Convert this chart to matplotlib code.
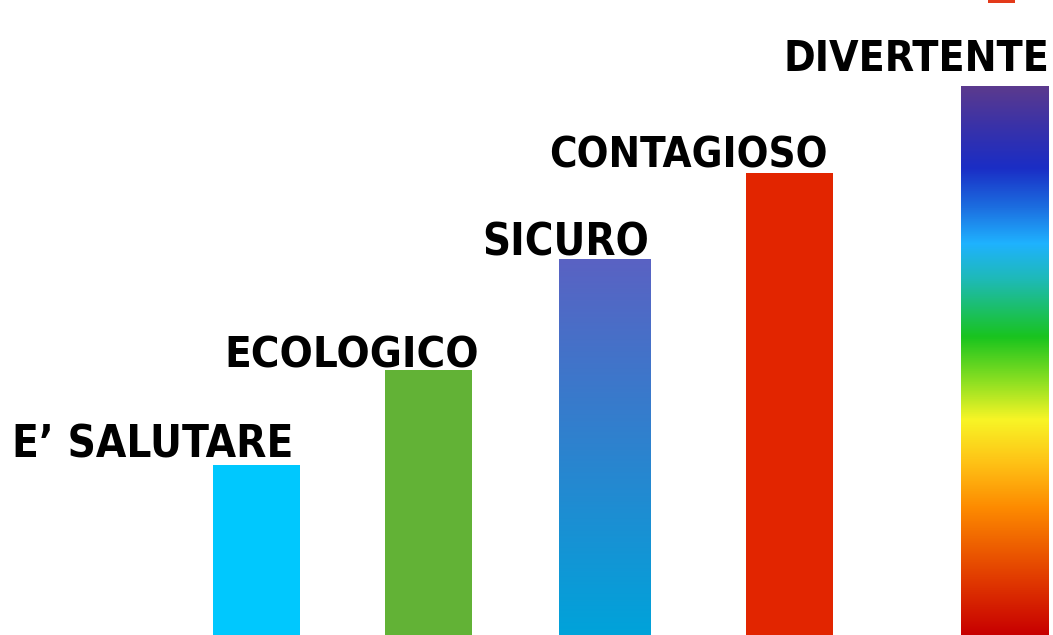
import matplotlib
matplotlib.use("Agg")
import matplotlib.pyplot as plt
import matplotlib.colors as mcolors
import numpy as np

# data
labels = ["E\u2019 SALUTARE", "ECOLOGICO", "SICURO", "CONTAGIOSO", "DIVERTENTE"]
values = [170, 265, 376, 462, 549]
colors = ["#00C8FE", "#62B236", "#3B7ECC", "#E22500", "#5B3A8E"]

# layout (pixels of the 1053x635 canvas)
bar_x = [256.5, 428.5, 605, 789.5, 1005]
bar_w = [87, 87, 92, 87, 88]
label_right = [293, 479, 649, 828, 1049]
label_gap = [8, 3, 4, 5, 15]
label_width = [281, 254, 167, 278, 266]

# gradients, top -> bottom
grad_sicuro = ["#5A62C3", "#00A3DA"]
grad_rainbow = [(0.0, "#5B3A8E"), (0.07, "#3A32A8"), (0.148, "#1A2DC5"),
                (0.22, "#1C6EE0"), (0.286, "#1FB2FF"), (0.353, "#1EBAB5"),
                (0.457, "#19C41E"), (0.54, "#8FE022"), (0.608, "#F8F526"),
                (0.69, "#FFC015"), (0.77, "#FD8A00"), (0.9, "#E13A00"),
                (1.0, "#C80000")]

fig = plt.figure(figsize=(10.53, 6.35), dpi=100, facecolor="w")
ax = fig.add_axes([0, 0, 1, 1])
ax.set_xlim(0, 1053)
ax.set_ylim(0, 635)
ax.axis("off")

bars = ax.bar(bar_x, values, width=bar_w, color=colors, linewidth=0)

def fill_gradient(bar, cmap):
    x0, y0 = bar.get_x(), bar.get_y()
    w, h = bar.get_width(), bar.get_height()
    grad = np.linspace(0, 1, 256).reshape(-1, 1)
    im = ax.imshow(grad, cmap=cmap, aspect="auto", extent=[x0, x0 + w, y0, y0 + h],
                   origin="upper", zorder=bar.get_zorder() + 0.1)
    im.set_clip_path(bar)

fill_gradient(bars[2], mcolors.LinearSegmentedColormap.from_list("sic", grad_sicuro))
fill_gradient(bars[4], mcolors.LinearSegmentedColormap.from_list("rb", grad_rainbow))

# small red mark cut off at the top edge
ax.bar([1001], [3], bottom=632, width=27, color="#E33A1A", linewidth=0)

renderer = fig.canvas.get_renderer()
for i, lab in enumerate(labels):
    t = ax.text(label_right[i], values[i] + label_gap[i], lab, ha="right", va="baseline",
                fontsize=60, fontweight="bold", fontstretch="condensed",
                family="DejaVu Sans", color="black")
    w = t.get_window_extent(renderer).width
    t.set_fontsize(60 * label_width[i] / w)

fig.savefig("out.png", dpi=100, facecolor="w")
